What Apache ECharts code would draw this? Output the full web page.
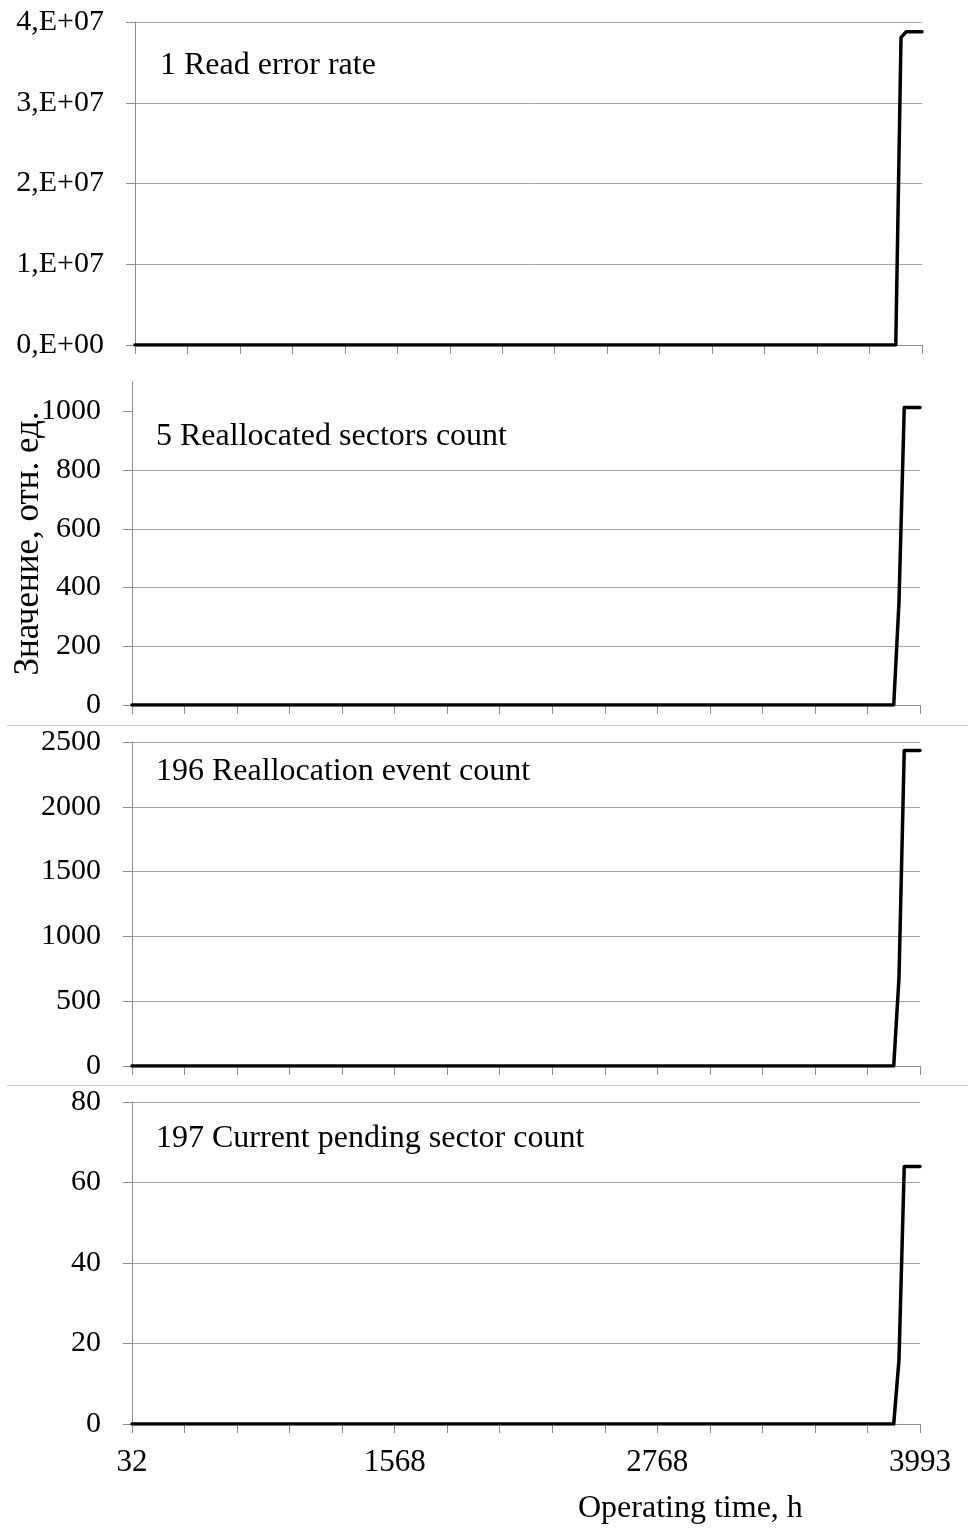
<!DOCTYPE html>
<html>
<head>
<meta charset="utf-8">
<script src="https://cdn.jsdelivr.net/npm/echarts@6/dist/echarts.min.js"></script>
<style>
html, body { margin: 0; padding: 0; background: #fff; }
#container { width: 968px; height: 1529px; }
</style>
</head>
<body>
<div id="container"></div>
<script>
var dom = document.getElementById("container");
var myChart = echarts.init(dom);

// position along the time axis (150 steps, a tick every 10)
var sampleIdx = [0, 145, 146, 147, 150];
// hours written under the bottom axis
var hourTickIdx = [0, 50, 100, 150];
var hourTickLabels = ["32", "1568", "2768", "3993"];

var readErrorRate = [0, 0, 3.81e7, 3.88e7, 3.88e7];
var reallocatedSectors = [0, 0, 350, 1013, 1013];
var reallocationEvents = [0, 0, 680, 2435, 2435];
var pendingSectors = [0, 0, 16, 64, 64];

var panelTitles = [
  "1 Read error rate",
  "5 Reallocated sectors count",
  "196 Reallocation event count",
  "197 Current pending sector count"
];

var FONT = "Liberation Serif";
var gridColor = "#a6a6a6";
var axisColor = "#8c8c8c";

function pairs(vals) {
  return sampleIdx.map(function (x, i) { return [x, vals[i]]; });
}

var grids = [
  { left: 135, right: 46, top: 22, height: 323 },
  { left: 132, right: 48, top: 382, height: 323 },
  { left: 132, right: 48, top: 742, height: 324 },
  { left: 132, right: 48, top: 1102, height: 322 }
];
grids.forEach(function (g) { g.outerBoundsMode = "none"; g.containLabel = false; });

var xAxes = grids.map(function (g, i) {
  return {
    type: "value",
    gridIndex: i,
    min: 0,
    max: 150,
    interval: 10,
    splitLine: { show: false },
    axisLine: { lineStyle: { color: axisColor, width: 1 } },
    axisTick: { show: true, length: 9, lineStyle: { color: axisColor } },
    axisLabel: {
      show: i === 3,
      margin: 23,
      fontFamily: FONT,
      fontSize: 31,
      color: "#000",
      formatter: function (v) {
        var k = hourTickIdx.indexOf(v);
        return k >= 0 ? hourTickLabels[k] : "";
      }
    }
  };
});

function yAxis(i, max, interval, fmt) {
  return {
    type: "value",
    gridIndex: i,
    min: 0,
    max: max,
    interval: interval,
    splitLine: { show: true, lineStyle: { color: gridColor, width: 1 } },
    axisLine: { show: true, lineStyle: { color: axisColor, width: 1 } },
    axisTick: { show: true, length: 9, lineStyle: { color: axisColor } },
    axisLabel: {
      margin: 31,
      fontFamily: FONT,
      fontSize: 30,
      color: "#000",
      formatter: fmt || function (v) { return String(v); }
    }
  };
}

var yAxes = [
  yAxis(0, 4e7, 1e7, function (v) {
    return v === 0 ? "0,E+00" : (v / 1e7) + ",E+07";
  }),
  yAxis(1, 1100, 200),
  yAxis(2, 2500, 500),
  yAxis(3, 80, 20)
];
// panel 2: axis runs up to 1100, but the last label/line is at 1000
yAxes[1].axisLabel.customValues = [0, 200, 400, 600, 800, 1000];
yAxes[1].axisTick.customValues = [0, 200, 400, 600, 800, 1000];
yAxes[1].splitLine.showMaxLine = false;
yAxes[1].name = "Значение, отн. ед.";
yAxes[1].nameLocation = "middle";
yAxes[1].nameGap = 86;
yAxes[1].nameMoveOverlap = false;
yAxes[1].nameTextStyle = { fontFamily: FONT, fontSize: 35, color: "#000" };

var seriesVals = [readErrorRate, reallocatedSectors, reallocationEvents, pendingSectors];
var series = seriesVals.map(function (vals, i) {
  return {
    type: "line",
    xAxisIndex: i,
    yAxisIndex: i,
    data: pairs(vals),
    symbol: "none",
    lineStyle: { color: "#000", width: 3.5, join: "round", cap: "round" },
    z: 5
  };
});

var titleTops = [50, 421, 756, 1123];
var titleLefts = [160, 156, 156, 156];
var titles = panelTitles.map(function (t, i) {
  return {
    text: t,
    left: titleLefts[i],
    top: titleTops[i],
    padding: 0,
    textStyle: { fontFamily: FONT, fontSize: 32, fontWeight: "normal", color: "#000" }
  };
});

option = {
  animation: false,
  backgroundColor: "#fff",
  title: titles,
  grid: grids,
  xAxis: xAxes,
  yAxis: yAxes,
  series: series,
  graphic: [
    { type: "line", shape: { x1: 7, y1: 725.5, x2: 968, y2: 725.5 }, style: { stroke: "#c8c8c8", lineWidth: 1 } },
    { type: "line", shape: { x1: 7, y1: 1085.5, x2: 968, y2: 1085.5 }, style: { stroke: "#c8c8c8", lineWidth: 1 } },
    {
      type: "text",
      x: 578,
      y: 1509,
      style: {
        text: "Operating time, h",
        fontFamily: FONT,
        fontSize: 32,
        fill: "#000",
        verticalAlign: "middle"
      }
    }
  ]
};

if (option && typeof option === "object") {
  myChart.setOption(option, true);
}
</script>
</body>
</html>
